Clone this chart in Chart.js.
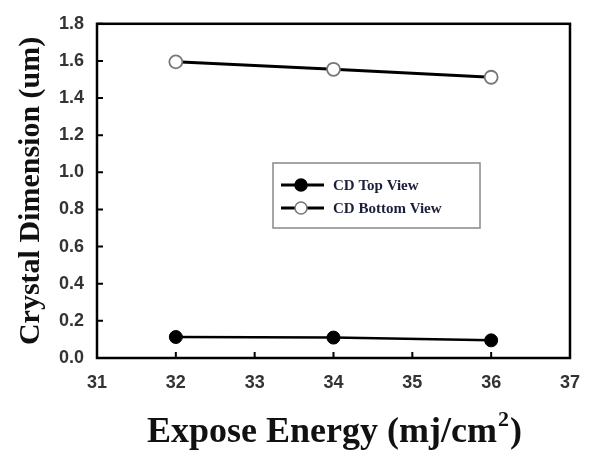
<!DOCTYPE html>
<html>
<head>
<meta charset="utf-8">
<script src="https://cdn.jsdelivr.net/npm/chart.js@4.4.0/dist/chart.umd.min.js"></script>
<style>
  html, body { margin: 0; padding: 0; background: #fff; }
  #wrap { width: 594px; height: 453px; position: relative; }
</style>
</head>
<body>
<div id="wrap"><canvas id="myChart"></canvas></div>
<script>
const energy = [32, 34, 36]
const cdTop = [0.113, 0.11, 0.095]
const cdBottom = [1.595, 1.555, 1.512]
const seriesNames = ['CD Top View', 'CD Bottom View']
const xTitle = ['Expose Energy (mj/cm', '2', ')']

// tick marks drawn on the inner side of the frame
const innerTicks = {
  id: 'innerTicks',
  afterDatasetsDraw(chart) {
    const c = chart.ctx
    const a = chart.chartArea
    const x = chart.scales.x, y = chart.scales.y
    c.save()
    c.strokeStyle = '#000'
    c.lineWidth = 2
    c.beginPath()
    x.ticks.forEach(t => {
      const px = x.getPixelForValue(t.value)
      c.moveTo(px, a.bottom); c.lineTo(px, a.bottom - 6)
    })
    y.ticks.forEach(t => {
      const py = y.getPixelForValue(t.value)
      c.moveTo(a.left, py); c.lineTo(a.left + 6, py)
    })
    c.stroke()
    c.lineWidth = 2.5
    c.strokeRect(a.left, a.top, a.right - a.left, a.bottom - a.top)
    c.restore()
  }
}

// x title with a raised 2
const xTitleDraw = {
  id: 'xTitleDraw',
  afterDraw(chart) {
    const c = chart.ctx
    const a = chart.chartArea
    const big = 'bold 36px "Liberation Serif", "Times New Roman", serif'
    const small = 'bold 22px "Liberation Serif", "Times New Roman", serif'
    c.save()
    c.fillStyle = '#111'
    c.textBaseline = 'alphabetic'
    c.font = big
    const w0 = c.measureText(xTitle[0]).width
    const w2 = c.measureText(xTitle[2]).width
    c.font = small
    const w1 = c.measureText(xTitle[1]).width
    let x0 = (a.left + a.right) / 2 - (w0 + w1 + w2) / 2
    const base = 442
    c.font = big
    c.fillText(xTitle[0], x0, base)
    c.font = small
    c.fillText(xTitle[1], x0 + w0 + 1, base - 16)
    c.font = big
    c.fillText(xTitle[2], x0 + w0 + w1 + 2, base)
    c.restore()
  }
}

// legend box inside the plot
const boxLegend = {
  id: 'boxLegend',
  afterDraw(chart) {
    const c = chart.ctx
    const bx = 273, by = 163, bw = 207, bh = 65
    c.save()
    c.fillStyle = '#fff'
    c.fillRect(bx, by, bw, bh)
    c.strokeStyle = '#888'
    c.lineWidth = 1.5
    c.strokeRect(bx, by, bw, bh)
    chart.data.datasets.forEach((ds, i) => {
      const ry = 185 + i * 23
      c.strokeStyle = '#000'
      c.lineWidth = 3
      c.beginPath(); c.moveTo(281, ry); c.lineTo(324, ry); c.stroke()
      c.beginPath(); c.arc(301, ry, 6, 0, Math.PI * 2)
      c.fillStyle = ds.pointBackgroundColor
      c.fill()
      c.lineWidth = 1.5
      c.strokeStyle = ds.pointBorderColor
      c.stroke()
      c.fillStyle = '#1c1f3a'
      c.font = 'bold 15px "Liberation Serif", "DejaVu Serif", serif'
      c.textBaseline = 'middle'
      c.fillText(ds.label, 333, ry + 1)
    })
    c.restore()
  }
}

const ctx = document.getElementById('myChart').getContext('2d')
const myChart = new Chart(ctx, {
  type: 'line',
  data: {
    datasets: [{
      label: seriesNames[0],
      data: energy.map((e, i) => ({x: e, y: cdTop[i]})),
      borderColor: '#000',
      borderWidth: 2.5,
      pointRadius: 6.5,
      pointBackgroundColor: '#000',
      pointBorderColor: '#000',
      pointBorderWidth: 1
    }, {
      label: seriesNames[1],
      data: energy.map((e, i) => ({x: e, y: cdBottom[i]})),
      borderColor: '#000',
      borderWidth: 3,
      pointRadius: 6.5,
      pointBackgroundColor: '#fff',
      pointBorderColor: '#777',
      pointBorderWidth: 1.8
    }]
  },
  options: {
    responsive: true,
    maintainAspectRatio: false,
    animation: false,
    layout: { padding: { left: 0, top: 18, right: 22, bottom: 0 } },
    plugins: { legend: { display: false }, tooltip: { enabled: false } },
    scales: {
      x: {
        type: 'linear',
        min: 31, max: 37,
        grid: { display: false, drawTicks: false },
        border: { display: false },
        ticks: {
          stepSize: 1, padding: 14, color: '#333',
          font: { family: '"Liberation Sans", Arial, sans-serif', size: 18, weight: 'bold' }
        },
        afterFit: (s) => { s.height = 95 }
      },
      y: {
        min: 0, max: 1.8,
        grid: { display: false, drawTicks: false },
        border: { display: false },
        ticks: {
          stepSize: 0.2, padding: 13, color: '#333',
          callback: (v) => v.toFixed(1),
          font: { family: '"Liberation Sans", Arial, sans-serif', size: 18, weight: 'bold' }
        },
        title: {
          display: true,
          text: 'Crystal Dimension (um)',
          color: '#111',
          padding: { top: 13, bottom: 0 },
          font: { family: '"Liberation Serif", "Times New Roman", serif', size: 30, weight: 'bold' }
        },
        afterFit: (s) => { s.width = 97 }
      }
    }
  },
  plugins: [innerTicks, xTitleDraw, boxLegend]
})
</script>
</body>
</html>
